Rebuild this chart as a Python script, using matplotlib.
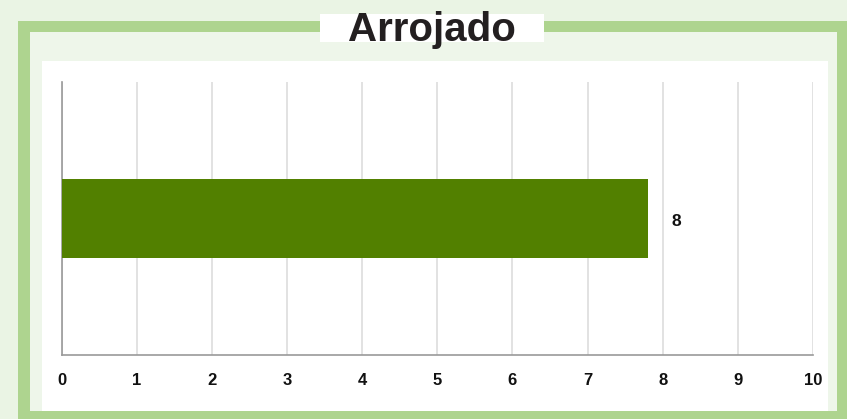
import matplotlib.pyplot as plt
from matplotlib.patches import Rectangle

# data
categories = [""]
values = [7.8]
value_labels = ["8"]
x_ticks = list(range(0, 11))
title = "Arrojado"

W, H = 847, 419
plt.rcParams['font.family'] = ['Liberation Sans', 'DejaVu Sans']

fig = plt.figure(figsize=(W / 100, H / 100), dpi=100)
fig.patch.set_facecolor('#eaf4e4')


def box(x0, y0, x1, y1, color, z):
    # pixel box (top-left origin) -> figure coords
    fig.patches.append(Rectangle((x0 / W, 1 - y1 / H), (x1 - x0) / W, (y1 - y0) / H,
                                 transform=fig.transFigure, facecolor=color,
                                 edgecolor='none', zorder=z))


box(18, 21, 850, 422, '#aed48f', 0)   # green frame
box(30, 32, 837, 411, '#eef6ea', 1)   # inner tint
box(42, 61, 828, 411, 'white', 2)     # chart panel
box(320, 14, 544, 42, 'white', 3)     # title box
fig.text(432 / W, 1 - 30 / H, title, ha='center', va='center',
         fontsize=29, fontweight='bold', color='#231f20', zorder=4)

ax = fig.add_axes([61.5 / W, 1 - 355 / H, (813 - 61.5) / W, (355 - 82) / H])
ax.set_facecolor('white')
ax.set_zorder(5)

ax.barh(range(len(values)), values, height=0.293, color='#528000', zorder=3)
for i, (v, lab) in enumerate(zip(values, value_labels)):
    ax.text(v + 0.32, i - 0.01, lab, va='center', ha='left', fontsize=12.5,
            fontweight='bold', color='#111111')

ax.set_xlim(0, 10)
ax.set_ylim(-0.5, 0.5)
ax.set_xticks(x_ticks)
ax.set_xticklabels([str(t) for t in x_ticks], fontsize=12, fontweight='bold', color='#111111')
ax.set_yticks([])
ax.tick_params(axis='x', length=0, pad=13)
ax.grid(axis='x', color='#dddddd', linewidth=1.2, zorder=0)
for s in ['top', 'right']:
    ax.spines[s].set_visible(False)
for s in ['left', 'bottom']:
    ax.spines[s].set_color('#999999')
    ax.spines[s].set_linewidth(1.2)

fig.savefig('out.png', dpi=100, facecolor=fig.get_facecolor())
